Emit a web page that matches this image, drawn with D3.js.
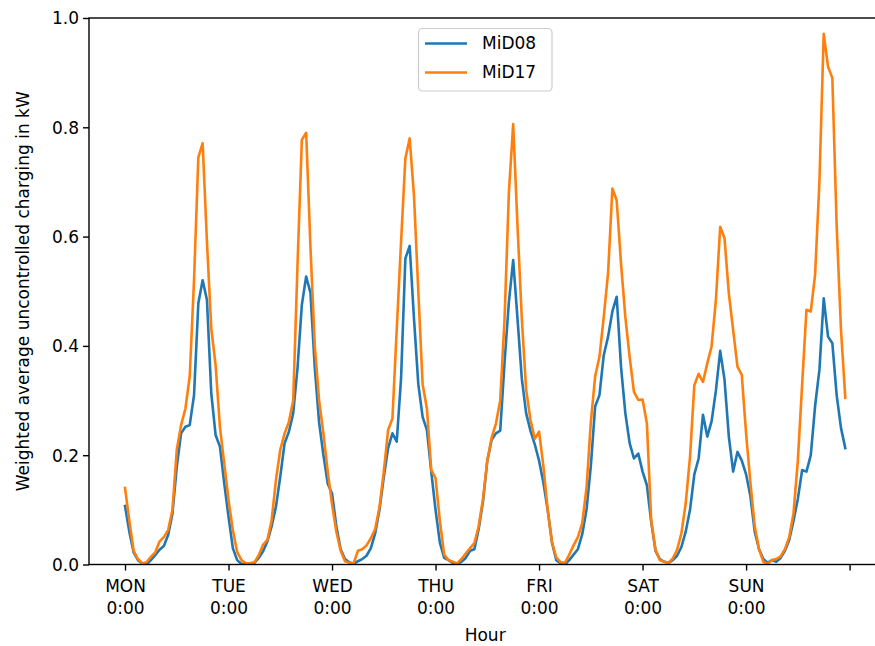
<!DOCTYPE html>
<html>
<head>
<meta charset="utf-8">
<script src="https://cdn.jsdelivr.net/npm/d3@7"></script>
<style>
  html, body { margin: 0; padding: 0; background: #fff; }
  svg { display: block; }
  text { font-family: "DejaVu Sans", sans-serif; fill: #000; }
</style>
</head>
<body>
<svg id="chart" width="875" height="646"></svg>
<script>
// ---- data ----
const hours = d3.range(0, 168);
const mid08 = [
  0.107,0.06,0.022,0.008,0.002,0.0,0.008,0.017,0.027,0.034,0.054,0.093,0.179,0.24,0.252,0.255,0.31,0.478,0.52,0.484,0.313,0.237,0.216,0.149,
  0.087,0.03,0.008,0.001,0.0,0.002,0.003,0.012,0.024,0.042,0.07,0.106,0.161,0.222,0.243,0.277,0.36,0.475,0.527,0.497,0.36,0.26,0.2,0.148,
  0.13,0.07,0.028,0.01,0.004,0.001,0.006,0.01,0.016,0.03,0.057,0.1,0.16,0.213,0.24,0.225,0.34,0.56,0.583,0.45,0.33,0.27,0.246,0.17,
  0.1,0.04,0.012,0.008,0.003,0.0,0.005,0.012,0.025,0.028,0.065,0.115,0.19,0.228,0.24,0.245,0.37,0.48,0.557,0.45,0.34,0.277,0.245,0.22,
  0.19,0.15,0.1,0.04,0.008,0.002,0.0,0.008,0.018,0.028,0.055,0.1,0.18,0.289,0.31,0.383,0.417,0.463,0.49,0.362,0.277,0.222,0.194,0.203,
  0.17,0.145,0.078,0.025,0.01,0.005,0.003,0.008,0.016,0.032,0.06,0.1,0.165,0.194,0.274,0.234,0.262,0.318,0.391,0.338,0.234,0.17,0.206,0.19,
  0.165,0.125,0.06,0.028,0.01,0.003,0.008,0.005,0.012,0.025,0.045,0.08,0.12,0.173,0.17,0.2,0.29,0.356,0.487,0.417,0.405,0.31,0.25,0.213
];
const mid17 = [
  0.14,0.08,0.025,0.01,0.002,0.004,0.014,0.022,0.042,0.05,0.063,0.1,0.21,0.255,0.285,0.344,0.52,0.745,0.771,0.59,0.432,0.365,0.252,0.185,
  0.118,0.063,0.023,0.008,0.002,0.002,0.004,0.017,0.036,0.045,0.081,0.155,0.21,0.24,0.261,0.30,0.55,0.777,0.79,0.58,0.4,0.3,0.24,0.17,
  0.11,0.06,0.025,0.006,0.003,0.002,0.025,0.028,0.035,0.048,0.065,0.105,0.17,0.246,0.267,0.43,0.59,0.743,0.78,0.675,0.5,0.33,0.285,0.173,
  0.158,0.08,0.018,0.008,0.005,0.002,0.01,0.02,0.03,0.039,0.07,0.12,0.19,0.232,0.258,0.3,0.45,0.68,0.806,0.62,0.45,0.32,0.265,0.23,
  0.243,0.18,0.1,0.04,0.013,0.004,0.003,0.018,0.035,0.05,0.075,0.14,0.26,0.344,0.38,0.453,0.533,0.688,0.666,0.551,0.453,0.38,0.316,0.301,
  0.302,0.258,0.081,0.027,0.008,0.005,0.003,0.011,0.027,0.057,0.112,0.197,0.328,0.349,0.334,0.368,0.399,0.484,0.618,0.597,0.496,0.429,0.362,0.347,
  0.24,0.15,0.07,0.028,0.005,0.001,0.008,0.01,0.015,0.028,0.05,0.094,0.19,0.33,0.466,0.463,0.53,0.70,0.971,0.911,0.89,0.62,0.43,0.305
];
const seriesNames = ["MiD08", "MiD17"];
const seriesColors = ["#1f77b4", "#ff7f0e"];
const xTickValues = [0, 24, 48, 72, 96, 120, 144, 168];
const xTickLabels = [["MON","0:00"],["TUE","0:00"],["WED","0:00"],["THU","0:00"],["FRI","0:00"],["SAT","0:00"],["SUN","0:00"],[]];
const yTickValues = [0.0, 0.2, 0.4, 0.6, 0.8, 1.0];

// ---- layout ----
const svg = d3.select("#chart");
const mLeft = 89, mRight = 881.3, mTop = 18, mBottom = 564.5;
const pad = 167 * 0.05;
const x = d3.scaleLinear().domain([-pad, 167 + pad]).range([mLeft, mRight]);
const y = d3.scaleLinear().domain([0, 1]).range([mBottom, mTop]);
const FS = 17;

// lines
svg.append("clipPath").attr("id", "clip").append("rect")
  .attr("x", mLeft).attr("y", mTop).attr("width", mRight - mLeft).attr("height", mBottom - mTop);
const plot = svg.append("g").attr("clip-path", "url(#clip)");
const line = d3.line().x((d, i) => x(hours[i])).y(d => y(d));
[mid08, mid17].forEach((s, k) => {
  plot.append("path").datum(s).attr("d", line)
    .attr("fill", "none").attr("stroke", seriesColors[k])
    .attr("stroke-width", 2.6).attr("stroke-linejoin", "round").attr("stroke-linecap", "square");
});

// axes
const xAxis = d3.axisBottom(x).tickValues(xTickValues).tickSize(6).tickFormat(() => "");
const gx = svg.append("g").attr("transform", `translate(0,${mBottom})`).call(xAxis);
gx.select(".domain").remove();
gx.selectAll(".tick line").attr("stroke", "#000").attr("stroke-width", 1.4);
gx.selectAll(".tick").each(function(d, i) {
  const t = d3.select(this).select("text")
    .attr("y", 0).attr("dy", null)
    .style("font-size", FS + "px").attr("text-anchor", "middle").attr("fill", "#000");
  xTickLabels[i].forEach((s, j) => {
    t.append("tspan").attr("x", 0).attr("y", 27 + j * 22).text(s);
  });
});

const yAxis = d3.axisLeft(y).tickValues(yTickValues).tickSize(6).tickFormat(d3.format(".1f"));
const gy = svg.append("g").attr("transform", `translate(${mLeft},0)`).call(yAxis);
gy.select(".domain").remove();
gy.selectAll(".tick line").attr("stroke", "#000").attr("stroke-width", 1.4);
gy.selectAll(".tick text").style("font-size", FS + "px").attr("x", -10).attr("dy", "0.35em").attr("fill", "#000");

// spines
svg.append("rect").attr("x", mLeft).attr("y", mTop).attr("width", mRight - mLeft).attr("height", mBottom - mTop)
  .attr("fill", "none").attr("stroke", "#000").attr("stroke-width", 1.4);

// axis labels
svg.append("text").attr("x", (mLeft + mRight) / 2).attr("y", 641).attr("text-anchor", "middle")
  .style("font-size", FS + "px").text("Hour");
svg.append("text").attr("transform", `translate(29,${(mTop + mBottom) / 2}) rotate(-90)`)
  .attr("text-anchor", "middle").style("font-size", FS + "px")
  .text("Weighted average uncontrolled charging in kW");

// legend
const lg = svg.append("g");
lg.append("rect").attr("x", 418.5).attr("y", 28.5).attr("width", 133.5).attr("height", 62.5)
  .attr("rx", 4).attr("fill", "#fff").attr("fill-opacity", 0.8)
  .attr("stroke", "#cccccc").attr("stroke-width", 1.2);
seriesNames.forEach((n, i) => {
  const yy = 43.5 + i * 29;
  lg.append("line").attr("x1", 425).attr("x2", 467).attr("y1", yy).attr("y2", yy)
    .attr("stroke", seriesColors[i]).attr("stroke-width", 2.6);
  lg.append("text").attr("x", 482).attr("y", yy).attr("dy", "0.35em")
    .style("font-size", FS + "px").text(n);
});
</script>
</body>
</html>
